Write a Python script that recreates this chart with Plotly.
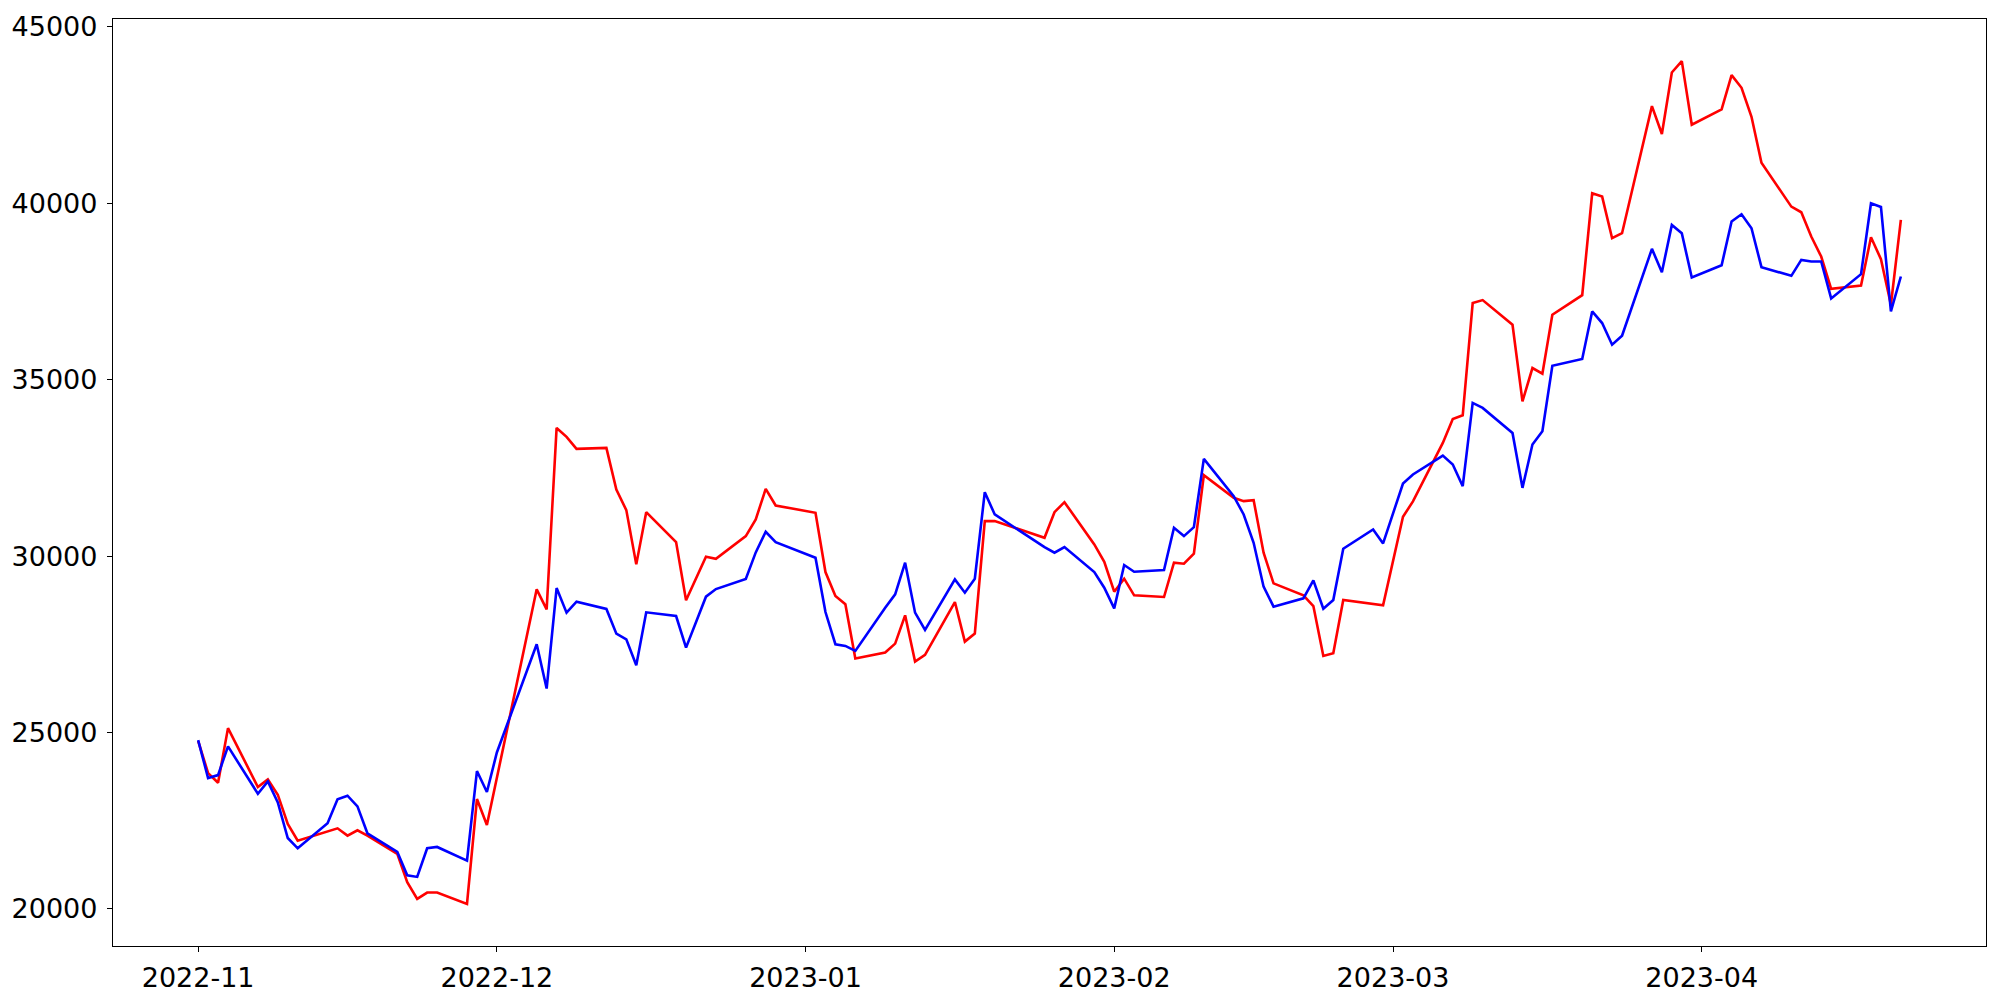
import pandas as pd
import plotly.graph_objects as go

# KRX trading days (weekdays minus market holidays)
start_date = "2022-11-01"
end_date = "2023-04-21"
holidays = ["2022-12-30", "2023-01-23", "2023-01-24", "2023-03-01"]
dates = [d for d in pd.bdate_range(start_date, end_date) if d.strftime("%Y-%m-%d") not in holidays]

blue_values = [
    # Nov
    24783, 23708, 23792, 24604, 23264, 23613, 23019, 22009, 21717, 22425, 23104,
    23208, 22906, 22142, 21613, 20953, 20906, 21717, 21755, 21368, 23906, 23311,
    # Dec
    24434, 25199, 27500, 26245, 29094, 28396, 28707, 28500, 27801, 27641, 26905,
    28405, 28301, 27405, 28131, 28849, 29065, 29349, 30103, 30688, 30395,
    # Jan
    29952, 28414, 27500, 27452, 27311, 28537, 28915, 29811, 28396, 27905, 29339,
    28962, 29358, 31810, 31179, 30254, 30094, 30254, 29546, 29103,
    # Feb
    28518, 29745, 29556, 29603, 30801, 30565, 30820, 32754, 31697, 31179, 30377,
    29132, 28566, 28801, 29311, 28509, 28754, 30207, 30754, 30358,
    # Mar
    32056, 32311, 32848, 32594, 31980, 34339, 34198, 33490, 31933, 33160, 33537,
    35395, 35584, 36933, 36603, 35990, 36244, 38706, 38046, 39386, 39150, 37895,
    # Apr
    38244, 39480, 39688, 39291, 38188, 37942, 38395, 38348, 38348, 37301, 37989,
    39999, 39895, 36933, 37923,
]

red_values = [
    # Nov
    24764, 23849, 23575, 25123, 23453, 23670, 23236, 22406, 21934, 22189, 22283,
    22075, 22226, 22075, 21557, 20755, 20283, 20462, 20462, 20142, 23113, 22377,
    # Dec
    23716, 25047, 29056, 28490, 33631, 33377, 33037, 33065, 31886, 31301, 29764,
    31244, 30395, 28745, 29362, 29980, 29923, 30565, 31037, 31905, 31433,
    # Jan
    31226, 29546, 28867, 28632, 27094, 27264, 27518, 28320, 27009, 27198, 28697,
    27575, 27801, 30990, 30990, 30518, 31244, 31527, 30330, 29839,
    # Feb
    28990, 29358, 28886, 28839, 29811, 29782, 30065, 32292, 31650, 31556, 31584,
    30094, 29226, 28886, 28584, 27169, 27245, 28754, 28641, 28603,
    # Mar
    31112, 31550, 33207, 33886, 33990, 37169, 37254, 36556, 34386, 35329, 35169,
    36839, 37395, 40282, 40187, 39008, 39150, 42753, 41961, 43706, 44027, 42225,
    # Apr
    42659, 43631, 43272, 42451, 41149, 39904, 39744, 39055, 38489, 37574, 37669,
    39037, 38414, 37122, 39527,
]

y_ticks = [20000, 25000, 30000, 35000, 40000, 45000]

# matplotlib-style 5% auto margins
x0, x1 = dates[0], dates[-1]
span = x1 - x0
x_range = [x0 - span * 0.05, x1 + span * 0.05]
all_vals = blue_values + red_values
ymin, ymax = min(all_vals), max(all_vals)
yr = ymax - ymin
y_range = [ymin - 0.05 * yr, ymax + 0.05 * yr]

fig = go.Figure()
fig.add_trace(go.Scatter(x=dates, y=red_values, mode="lines",
                         line=dict(color="red", width=2.6), showlegend=False))
fig.add_trace(go.Scatter(x=dates, y=blue_values, mode="lines",
                         line=dict(color="blue", width=2.6), showlegend=False))

axis_font = dict(family="DejaVu Sans", size=27, color="black")
fig.update_layout(
    width=2000, height=1000,
    margin=dict(l=113, r=14, t=19, b=54, pad=0),
    paper_bgcolor="white", plot_bgcolor="white",
    showlegend=False,
    xaxis=dict(
        type="date", range=x_range, dtick="M1", tick0="2022-11-01",
        tickformat="%Y-%m", showgrid=False, zeroline=False, automargin=False,
        showline=True, linecolor="black", linewidth=1.3, mirror=True,
        ticks="outside", ticklen=5, tickwidth=1.3, tickcolor="black",
        tickfont=axis_font, ticklabelstandoff=2,
    ),
    yaxis=dict(
        range=y_range, tickmode="array", tickvals=y_ticks,
        ticktext=[str(v) for v in y_ticks], showgrid=False, zeroline=False,
        automargin=False,
        showline=True, linecolor="black", linewidth=1.3, mirror=True,
        ticks="outside", ticklen=5, tickwidth=1.3, tickcolor="black",
        tickfont=axis_font, ticklabelstandoff=4,
    ),
)

fig.write_html(
    "out.html",
    config={"displayModeBar": False},
    post_script="document.body.style.margin='0';document.body.style.overflow='hidden';",
)
